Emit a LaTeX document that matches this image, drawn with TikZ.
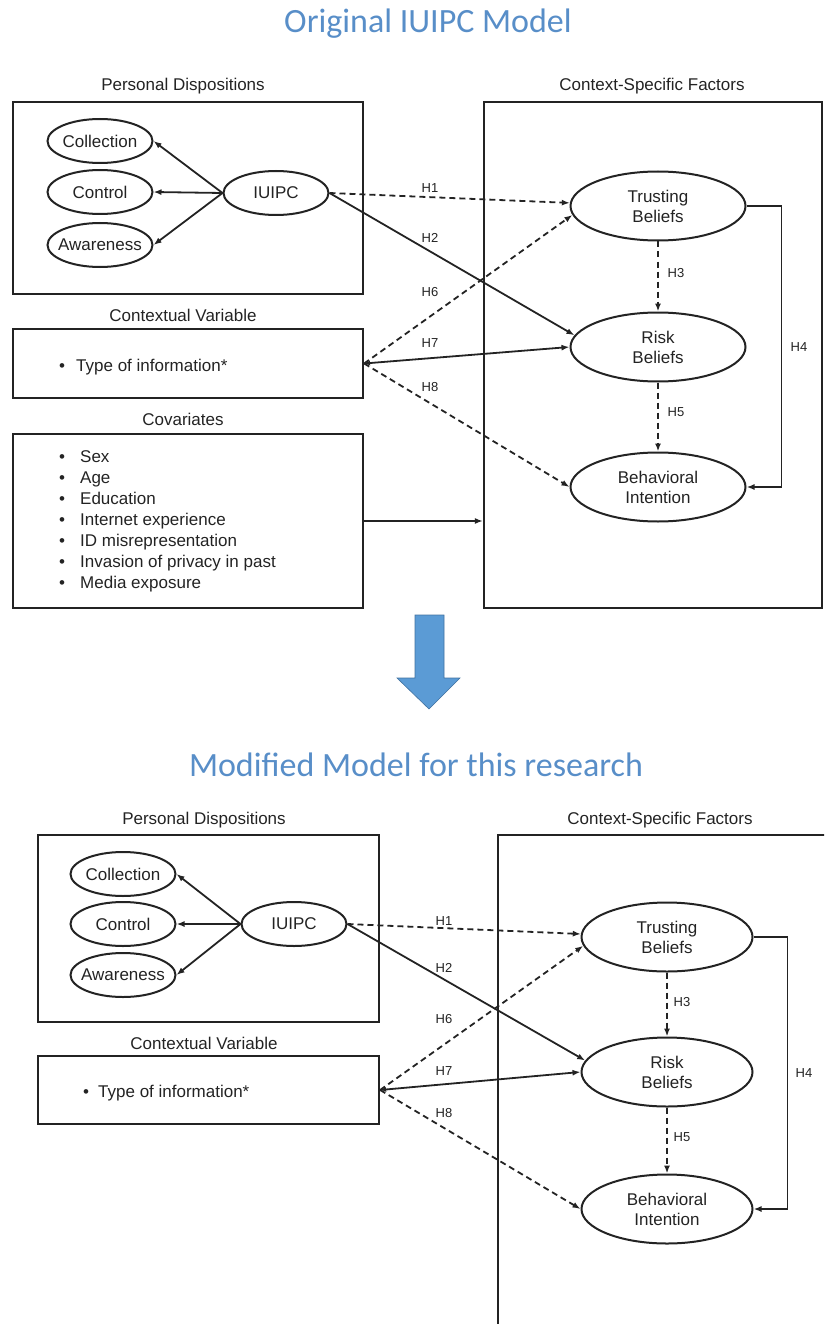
\documentclass[tikz,border=0pt]{standalone}
\usepackage{fontspec}
\setmainfont{Liberation Sans}
\newfontfamily\titlefont{Carlito}
\usetikzlibrary{arrows.meta,shapes,positioning}

\definecolor{titleblue}{RGB}{88,142,200}
\definecolor{arrowblue}{RGB}{91,155,213}
\definecolor{arrowedge}{RGB}{65,113,160}
\definecolor{inkgray}{RGB}{35,35,35}

\tikzset{
  every node/.style={text=inkgray},
  title/.style={text=titleblue, font=\titlefont\fontsize{34}{40}\selectfont},
  heading/.style={font=\fontsize{17}{20}\selectfont},
  hyp/.style={font=\fontsize{13}{15}\selectfont},
  box/.style={draw=inkgray, line width=2.2pt, rectangle, inner sep=0pt},
  factor/.style={draw=inkgray, line width=2pt, ellipse, inner ysep=0pt, inner xsep=-5pt,
    minimum width=105pt, minimum height=44pt, font=\fontsize{17}{20}\selectfont},
  construct/.style={draw=inkgray, line width=2pt, ellipse, inner sep=0pt, align=center,
    minimum width=175pt, minimum height=69pt, font=\fontsize{17}{20}\selectfont},
  link/.style={draw=inkgray, line width=1.8pt, -{Latex[length=8pt,width=6pt]}},
  dlink/.style={link, dash pattern=on 6pt off 4pt},
  twolink/.style={link, {Latex[length=6pt,width=5pt]}-{Latex[length=8pt,width=6pt]}},
  items/.style={align=left, inner sep=0pt, font=\fontsize{17}{21}\selectfont},
}

\begin{document}
\begin{tikzpicture}[x=1pt, y=-1pt]
\useasboundingbox (0,0) rectangle (824,1324);
\clip (0,0) rectangle (824,1324);

% original model
\node[title] (title-o) at (428,24) {Original IUIPC Model};

\node[heading] (pdlabel-o) at (183,86) {Personal Dispositions};
\node[box, minimum width=350pt, minimum height=192pt] (pd-o) at (188,198) {};
\node[factor] (coll-o) at (100,141) {Collection};
\node[factor] (ctrl-o) at (100,192) {Control};
\node[factor] (aware-o) at (100,245) {Awareness};
\node[factor] (iuipc-o) at (276,193) {IUIPC};

\node[heading] (cvlabel-o) at (183,315) {Contextual Variable};
\node[box, minimum width=350pt, minimum height=69pt] (cv-o) at (188,363.5) {};
\node[items, anchor=west] (cvtext-o) at (59,367) {\makebox[17pt][l]{\textbullet}Type of information*};

\node[heading] (covlabel-o) at (183,419) {Covariates};
\node[box, minimum width=350pt, minimum height=174pt] (cov-o) at (188,521) {};
\node[items, anchor=north west] (covtext-o) at (59,450) {%
  \makebox[21pt][l]{\textbullet}Sex\\
  \makebox[21pt][l]{\textbullet}Age\\
  \makebox[21pt][l]{\textbullet}Education\\
  \makebox[21pt][l]{\textbullet}Internet experience\\
  \makebox[21pt][l]{\textbullet}ID misrepresentation\\
  \makebox[21pt][l]{\textbullet}Invasion of privacy in past\\
  \makebox[21pt][l]{\textbullet}Media exposure};

\node[heading] (csflabel-o) at (652,86) {Context-Specific Factors};
\node[box, minimum width=338pt, minimum height=506pt] (csf-o) at (653,355) {};
\node[construct] (trust-o) at (658,206) {Trusting\\Beliefs};
\node[construct] (risk-o) at (658,347) {Risk\\Beliefs};
\node[construct] (intent-o) at (658,487) {Behavioral\\Intention};

\draw[link] (iuipc-o.west) -- (coll-o.east);
\draw[link] (iuipc-o.west) -- (ctrl-o.east);
\draw[link] (iuipc-o.west) -- (aware-o.east);
\draw[dlink] (iuipc-o.east) -- (trust-o.178);
\draw[link] (iuipc-o.east) -- (risk-o.172);
\draw[dlink] (cv-o.east) -- (trust-o.186);
\draw[twolink] (cv-o.east) -- (risk-o.west);
\draw[dlink] (cv-o.east) -- (intent-o.west);
\draw[dlink] (trust-o.south) -- (risk-o.north);
\draw[dlink] (risk-o.south) -- (intent-o.north);
\draw[link] (trust-o.east) -- ++(35,0) |- (intent-o.east);
\draw[link] (cov-o.east) -- (cov-o.east -| csf-o.west);

\node[hyp] (h1-o) at (430,188) {H1};
\node[hyp] (h2-o) at (430,238) {H2};
\node[hyp] (h6-o) at (430,292) {H6};
\node[hyp] (h7-o) at (430,343) {H7};
\node[hyp] (h8-o) at (430,387) {H8};
\node[hyp] (h3-o) at (676,273) {H3};
\node[hyp] (h5-o) at (676,412) {H5};
\node[hyp] (h4-o) at (799,347) {H4};

% blue arrow between the models
\filldraw[fill=arrowblue, draw=arrowedge, line width=0.6pt]
  (415,615) -- (444,615) -- (444,678) -- (460,678) -- (429,709) -- (397,678) -- (415,678) -- cycle;

% modified model
\node[title] (title-m) at (416,765) {Modified Model for this research};

\node[heading] (pdlabel-m) at (204,820) {Personal Dispositions};
\node[box, minimum width=341pt, minimum height=187pt] (pd-m) at (208.5,928.5) {};
\node[factor] (coll-m) at (123,874) {Collection};
\node[factor] (ctrl-m) at (123,924) {Control};
\node[factor] (aware-m) at (123,975) {Awareness};
\node[factor] (iuipc-m) at (294,924) {IUIPC};

\node[heading] (cvlabel-m) at (204,1043) {Contextual Variable};
\node[box, minimum width=341pt, minimum height=68pt] (cv-m) at (208.5,1090) {};
\node[items, anchor=west] (cvtext-m) at (83,1093) {\makebox[15pt][l]{\textbullet}Type of information*};

\node[heading] (csflabel-m) at (660,820) {Context-Specific Factors};
\draw[draw=inkgray, line width=2.2pt] (830,835) -| (498,1330);
\node[construct, minimum width=171pt] (trust-m) at (667,937) {Trusting\\Beliefs};
\node[construct, minimum width=171pt] (risk-m) at (667,1072) {Risk\\Beliefs};
\node[construct, minimum width=171pt] (intent-m) at (667,1209) {Behavioral\\Intention};

\draw[link] (iuipc-m.west) -- (coll-m.east);
\draw[link] (iuipc-m.west) -- (ctrl-m.east);
\draw[link] (iuipc-m.west) -- (aware-m.east);
\draw[dlink] (iuipc-m.east) -- (trust-m.178);
\draw[link] (iuipc-m.east) -- (risk-m.172);
\draw[dlink] (cv-m.east) -- (trust-m.186);
\draw[twolink] (cv-m.east) -- (risk-m.west);
\draw[dlink] (cv-m.east) -- (intent-m.west);
\draw[dlink] (trust-m.south) -- (risk-m.north);
\draw[dlink] (risk-m.south) -- (intent-m.north);
\draw[link] (trust-m.east) -- ++(34,0) |- (intent-m.east);

\node[hyp] (h1-m) at (444,921) {H1};
\node[hyp] (h2-m) at (444,968) {H2};
\node[hyp] (h6-m) at (444,1019) {H6};
\node[hyp] (h7-m) at (444,1071) {H7};
\node[hyp] (h8-m) at (444,1113) {H8};
\node[hyp] (h3-m) at (682,1002) {H3};
\node[hyp] (h5-m) at (682,1137) {H5};
\node[hyp] (h4-m) at (804,1073) {H4};
\end{tikzpicture}
\end{document}
